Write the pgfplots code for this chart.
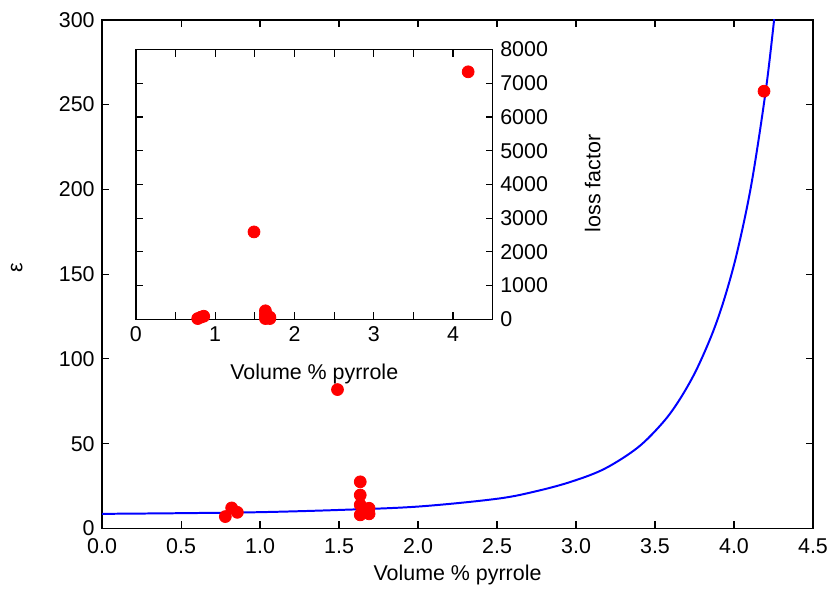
\documentclass[border=0pt]{standalone}
\usepackage{pgfplots}
\pgfplotsset{compat=1.18}
\usepackage{fontspec}
\setmainfont{Liberation Sans}
\begin{document}
\fontsize{10.8pt}{13pt}\selectfont
\begin{tikzpicture}
\begin{axis}[
  name=main,
  at={(0,0)}, anchor=south west,
  scale only axis,
  width=358.5pt, height=256.5pt,
  xmin=0, xmax=4.5, ymin=0, ymax=300,
  xtick={0,0.5,...,4.5},
  ytick={0,50,...,300},
  tick align=inside,
  major tick length=3.5pt,
  axis line style={line width=0.7pt},
  every tick/.style={black, line width=0.6pt},
  xticklabel style={yshift=-1.5pt,/pgf/number format/.cd,fixed,fixed zerofill,precision=1},
  /pgf/number format/assume math mode=true,
  xlabel={Volume \% pyrrole},
  ylabel={ε},
  every axis x label/.style={at={(axis description cs:0.5,-0.092)}, anchor=center},
  every axis y label/.style={at={(axis description cs:-0.12,0.513)}, anchor=center, rotate=90},
  clip=true,
]
\addplot[blue, line width=1pt, smooth, tension=0.55] coordinates {
(0.0,8.6) (0.5,9.0) (1.0,9.6) (1.5,10.9) (2.0,12.9) (2.5,17.5) (2.75,22.0)
(2.974,27.7) (3.183,35.3) (3.392,47.8) (3.549,62.4) (3.653,75.6) (3.758,92.8)
(3.862,114.8) (3.94,135.8) (4.02,163) (4.11,203) (4.2,257.5) (4.254,300) (4.27,314)
};
\addplot[only marks, mark=*, mark size=3pt, mark options={fill=red, draw=red}] coordinates {
(0.78,7.0) (0.82,12.1) (0.856,9.5) (1.49,81.9)
(1.634,27.5) (1.634,19.7) (1.634,13.9) (1.634,8.0)
(1.69,11.9) (1.69,8.6) (4.19,257.9)
};
\end{axis}
\begin{axis}[
  at={(17pt,105.5pt)}, anchor=south west,
  scale only axis,
  width=180pt, height=136pt,
  xmin=0, xmax=4.5, ymin=0, ymax=8000,
  xtick={0,0.5,...,4.5},
  xticklabels={0,,1,,2,,3,,4,},
  ytick={0,1000,...,8000},
  yticklabel pos=right,
  ytick pos=both,
  xtick pos=both,
  tick align=inside,
  major tick length=3.5pt,
  axis line style={line width=0.7pt},
  every tick/.style={black, line width=0.6pt},
  scaled y ticks=false,
  yticklabel style={/pgf/number format/.cd,fixed,1000 sep={}},
  /pgf/number format/assume math mode=true,
  xlabel={Volume \% pyrrole},
  ylabel={loss factor},
  every axis x label/.style={at={(axis description cs:0.5,-0.202)}, anchor=center},
  every axis y label/.style={at={(axis description cs:1.28,0.504)}, anchor=center, rotate=90},
  axis background/.style={fill=white},
]
\addplot[only marks, mark=*, mark size=3pt, mark options={fill=red, draw=red}] coordinates {
(0.78,20) (0.82,60) (0.856,90) (1.49,2590)
(1.634,250) (1.634,150) (1.634,60) (1.634,20)
(1.69,60) (1.69,20) (4.19,7340)
};
\end{axis}
\path ([shift={(-51.5pt,-33pt)}]main.south west) rectangle ([shift={(7.5pt,10pt)}]main.north east);
\end{tikzpicture}
\end{document}
